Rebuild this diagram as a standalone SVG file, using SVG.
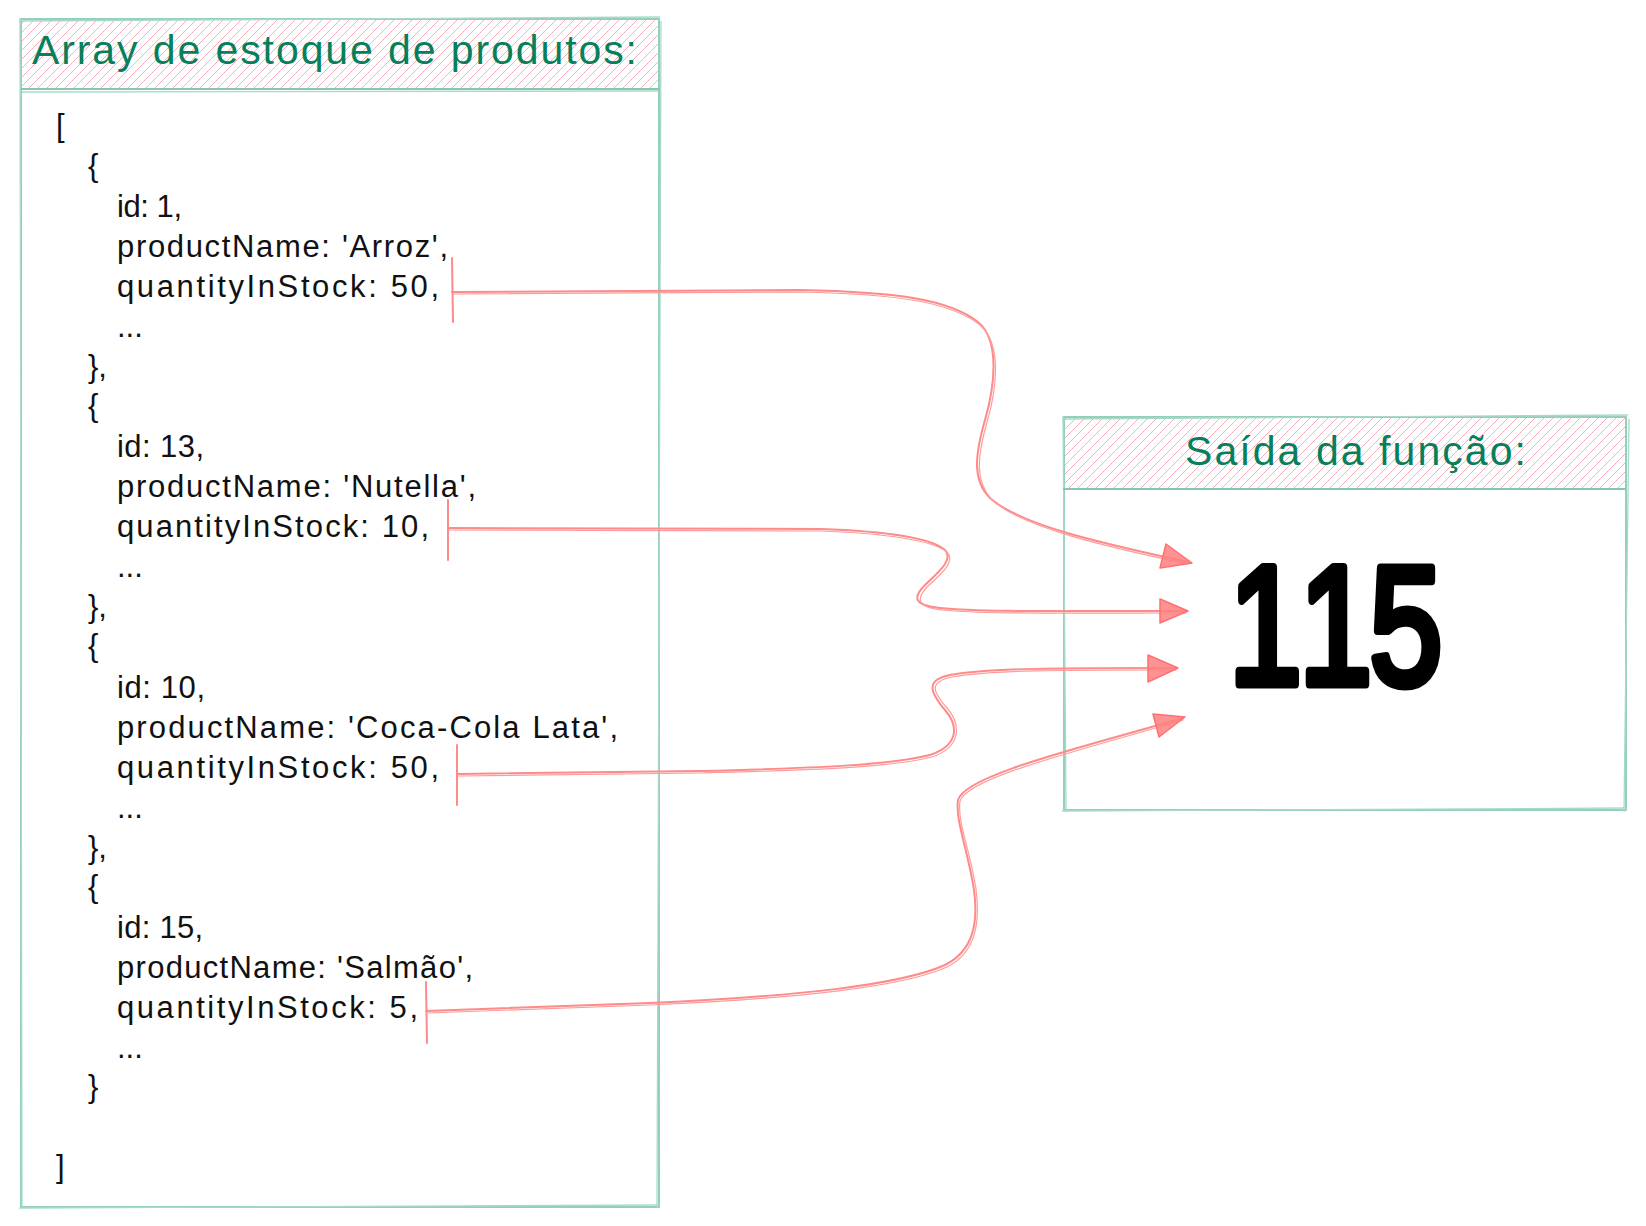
<svg xmlns="http://www.w3.org/2000/svg" width="1646" height="1226" viewBox="0 0 1646 1226">
  <defs>
    <pattern id="hatch" patternUnits="userSpaceOnUse" width="9" height="9">
      <path d="M-1,1 L1,-1 M0,9 L9,0 M8,10 L10,8" stroke="#f5aebb" stroke-width="1"/>
    </pattern>
  </defs>
  <style>
    .frame { fill: none; stroke: #94d0b9; stroke-width: 2; stroke-linejoin: round; stroke-linecap: round; }
    .frame2 { fill: none; stroke: #a8dac7; stroke-width: 1.3; }
    .div { stroke: #86c7ad; stroke-width: 2.2; }
    .title { font-family: "Liberation Sans", Arial, sans-serif; font-size: 41px; fill: #087f5b; }
    .code { font-family: "Liberation Sans", Arial, sans-serif; font-size: 31px; fill: #111111; }
    .big { font-family: "Liberation Sans", Arial, sans-serif; font-size: 168px; fill: #000000; stroke: #000000; stroke-width: 9; stroke-linejoin: round; stroke-linecap: round; }
    .conn { fill: none; stroke: #ff8a8a; stroke-width: 2; stroke-linecap: round; }
    .conn2 { fill: none; stroke: #ff9c9c; stroke-width: 1.2; stroke-linecap: round; }
    .tick { stroke: #ff8a8a; stroke-width: 2; stroke-linecap: round; }
    .head { fill: #ff8080; fill-opacity: 0.85; stroke: #ff7070; stroke-width: 1.5; stroke-linejoin: round; }
  </style>

  <g id="node-array">
    <rect x="21" y="19" width="638" height="70" fill="url(#hatch)"/>
    <path class="frame" d="M21,19 L659,19 L659,1207 L21,1207 Z"/>
    <path class="frame2" d="M19,21 L660,17 M661,21 L657,1208 M660,1205 L19,1208 M22,1206 L20,18"/>
    <line class="div" x1="21" y1="89" x2="659" y2="89"/>
    <line class="frame2" x1="22" y1="92" x2="658" y2="91"/>
    <text class="title" x="32" y="64" textLength="605" lengthAdjust="spacing">Array de estoque de produtos:</text>
    <g class="code">
      <text x="56" y="136">[</text>
      <text x="88" y="176">{</text>
      <text x="117" y="217" textLength="65" lengthAdjust="spacing">id: 1,</text>
      <text x="117" y="257" textLength="331" lengthAdjust="spacing">productName: 'Arroz',</text>
      <text x="117" y="297" textLength="322" lengthAdjust="spacing">quantityInStock: 50,</text>
      <text x="117" y="337">...</text>
      <text x="88" y="377">},</text>
      <text x="88" y="416">{</text>
      <text x="117" y="457" textLength="87" lengthAdjust="spacing">id: 13,</text>
      <text x="117" y="497" textLength="359" lengthAdjust="spacing">productName: 'Nutella',</text>
      <text x="117" y="537" textLength="312" lengthAdjust="spacing">quantityInStock: 10,</text>
      <text x="117" y="577">...</text>
      <text x="88" y="617">},</text>
      <text x="88" y="656">{</text>
      <text x="117" y="698" textLength="88" lengthAdjust="spacing">id: 10,</text>
      <text x="117" y="738" textLength="501" lengthAdjust="spacing">productName: 'Coca-Cola Lata',</text>
      <text x="117" y="778" textLength="322" lengthAdjust="spacing">quantityInStock: 50,</text>
      <text x="117" y="818">...</text>
      <text x="88" y="858">},</text>
      <text x="88" y="897">{</text>
      <text x="117" y="938" textLength="86" lengthAdjust="spacing">id: 15,</text>
      <text x="117" y="978" textLength="356" lengthAdjust="spacing">productName: 'Salmão',</text>
      <text x="117" y="1018" textLength="301" lengthAdjust="spacing">quantityInStock: 5,</text>
      <text x="117" y="1058">...</text>
      <text x="88" y="1097">}</text>
      <text x="56" y="1177">]</text>
    </g>
  </g>

  <g id="node-output">
    <rect x="1064" y="417" width="562" height="72" fill="url(#hatch)"/>
    <path class="frame" d="M1064,417 L1626,417 L1626,810 L1064,810 Z"/>
    <path class="frame2" d="M1062,419 L1628,415 M1629,419 L1624,812 M1627,808 L1062,811 M1066,809 L1063,416"/>
    <line class="div" x1="1063" y1="489" x2="1626" y2="489"/>
    <text class="title" x="1185" y="465" textLength="341" lengthAdjust="spacing">Saída da função:</text>
    <text class="big" x="0 90 180" y="684" transform="matrix(0.78,0,0,1,1229,0)">115</text>
  </g>

  <g id="connectors">
    <g>
      <line class="tick" x1="452" y1="258" x2="453" y2="322"/>
      <path class="conn" d="M452,292 L800,290 C900,292 950,300 978,322 C1000,340 995,385 985,420 C975,455 972,480 990,498 C1020,525 1100,543 1188,562"/>
      <path class="conn2" d="M453,294 L800,292 C902,294 952,303 980,325 C1002,344 997,388 987,422 C977,457 975,482 992,500 C1022,527 1102,546 1188,564"/>
      <polygon class="head" points="1192,563 1160,568 1166,544"/>
    </g>
    <g>
      <line class="tick" x1="448" y1="500" x2="448" y2="560"/>
      <path class="conn" d="M448,528 L820,529 C880,531 930,537 945,550 C955,560 935,575 925,585 C915,595 910,605 940,608 C980,612 1050,611 1186,611"/>
      <path class="conn2" d="M449,530 L820,531 C882,533 932,540 947,552 C957,563 937,577 927,587 C918,597 914,607 942,610 C982,614 1050,613 1186,613"/>
      <polygon class="head" points="1188,611 1160,599 1160,623"/>
    </g>
    <g>
      <line class="tick" x1="457" y1="745" x2="457" y2="805"/>
      <path class="conn" d="M457,774 L700,771 C820,768 890,765 930,755 C960,745 958,725 945,710 C930,692 925,680 950,675 C990,668 1060,668 1176,668"/>
      <path class="conn2" d="M458,776 L700,773 C822,770 892,767 932,757 C962,747 961,724 947,708 C933,692 928,682 952,677 C992,670 1060,670 1176,670"/>
      <polygon class="head" points="1178,668 1148,655 1148,682"/>
    </g>
    <g>
      <line class="tick" x1="426" y1="982" x2="427" y2="1043"/>
      <path class="conn" d="M426,1011 L650,1003 C800,996 900,985 945,965 C975,950 978,920 974,890 C968,850 955,820 958,800 C965,775 1080,748 1183,718"/>
      <path class="conn2" d="M427,1013 L650,1005 C802,998 902,987 947,967 C977,952 980,921 976,889 C970,850 957,821 960,801 C968,777 1082,750 1183,720"/>
      <polygon class="head" points="1185,717 1159,737 1153,714"/>
    </g>
  </g>
</svg>
